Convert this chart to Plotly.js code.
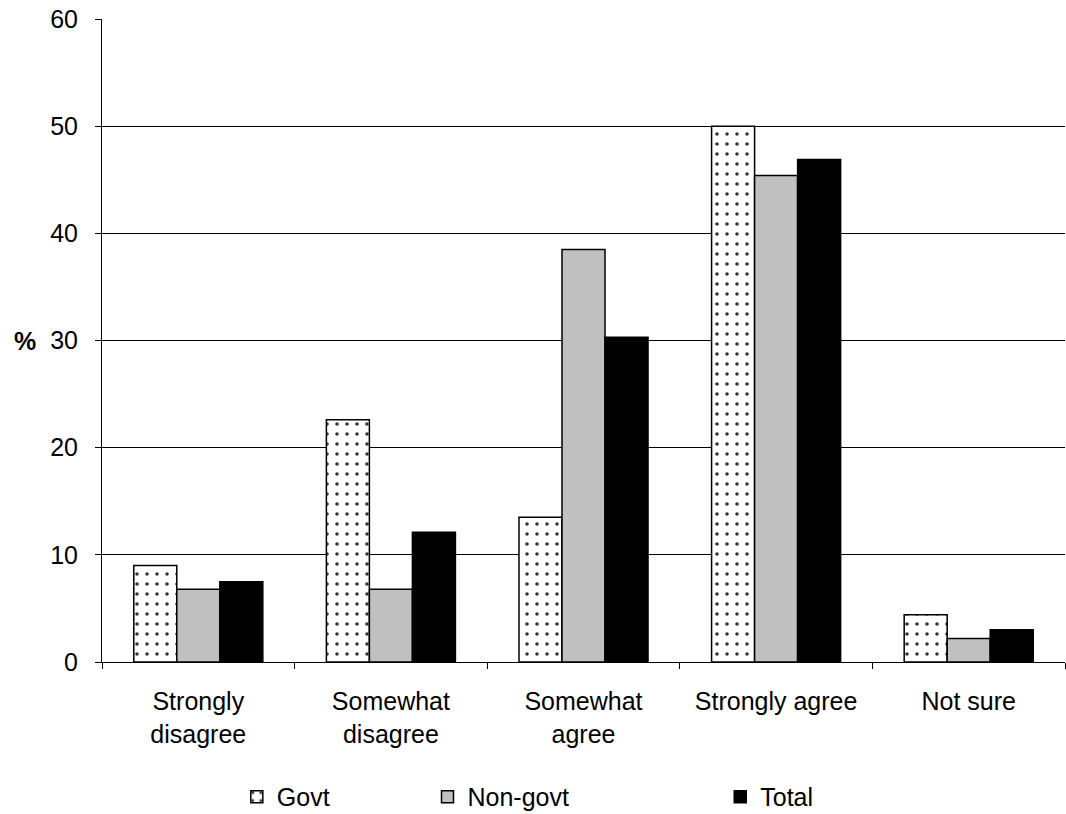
<!DOCTYPE html>
<html>
<head>
<meta charset="utf-8">
<script src="https://cdn.plot.ly/plotly-3.0.1.min.js"></script>
<style>html,body{margin:0;padding:0;background:#fff;}</style>
</head>
<body>
<div id="chart" style="width:1066px;height:814px;"></div>
<script>
const categories = ["Strongly<br>disagree", "Somewhat<br>disagree", "Somewhat<br>agree", "Strongly agree", "Not sure"];
const govt = [9.0, 22.6, 13.5, 50.0, 4.4];
const nonGovt = [6.8, 6.8, 38.5, 45.4, 2.2];
const total = [7.5, 12.1, 30.3, 46.9, 3.0];
const yTicks = [0, 10, 20, 30, 40, 50, 60];

const font = {family: "Liberation Sans, Arial, sans-serif", size: 25, color: "#000"};
const line = {color: "#000", width: 1.5};

const traces = [
  {type: "bar", name: "Govt", x: categories, y: govt, legend: "legend",
   marker: {color: "#fff", line: line, pattern: {shape: ".", fgcolor: "#333", bgcolor: "#fff", size: 10, solidity: 0.1}}},
  {type: "bar", name: "Non-govt", x: categories, y: nonGovt, legend: "legend2",
   marker: {color: "#c0c0c0", line: line}},
  {type: "bar", name: "Total", x: categories, y: total, legend: "legend3",
   marker: {color: "#000", line: line}}
];

const legendBase = {orientation: "h", font: font, yref: "container", yanchor: "middle", y: 0.021, xanchor: "left", bgcolor: "rgba(0,0,0,0)", itemwidth: 30, tracegroupgap: 0};

const layout = {
  width: 1066, height: 814,
  margin: {l: 102, r: 1, t: 19, b: 152, autoexpand: false},
  paper_bgcolor: "#fff", plot_bgcolor: "#fff",
  font: font,
  barmode: "group", bargap: 0.33, bargroupgap: 0,
  showlegend: true,
  legend: Object.assign({}, legendBase, {x: 0.14}),
  legend2: Object.assign({}, legendBase, {x: 0.338}),
  legend3: Object.assign({}, legendBase, {x: 0.642}),
  xaxis: {
    type: "category", showline: true, linecolor: "#000", linewidth: 1, automargin: false,
    ticks: "outside", tickson: "boundaries", ticklen: 6, tickcolor: "#000", tickwidth: 1,
    tickfont: font, showgrid: false, zeroline: false, ticklabelstandoff: 17
  },
  yaxis: {
    range: [0, 60], tickvals: yTicks, ticktext: yTicks.map(String), automargin: false,
    showline: true, linecolor: "#000", linewidth: 1,
    ticks: "outside", ticklen: 6, tickcolor: "#000",
    showgrid: true, gridcolor: "#000", gridwidth: 1, zeroline: false,
    tickfont: font, ticklabelstandoff: 12
  },
  annotations: [
    {text: "<b>%</b>", xref: "paper", yref: "paper", x: -0.08, y: 0.5, showarrow: false,
     font: {family: font.family, size: 25, color: "#000"}, xanchor: "center", yanchor: "middle"}
  ]
};

Plotly.newPlot("chart", traces, layout, {displayModeBar: false, responsive: false});
</script>
</body>
</html>
